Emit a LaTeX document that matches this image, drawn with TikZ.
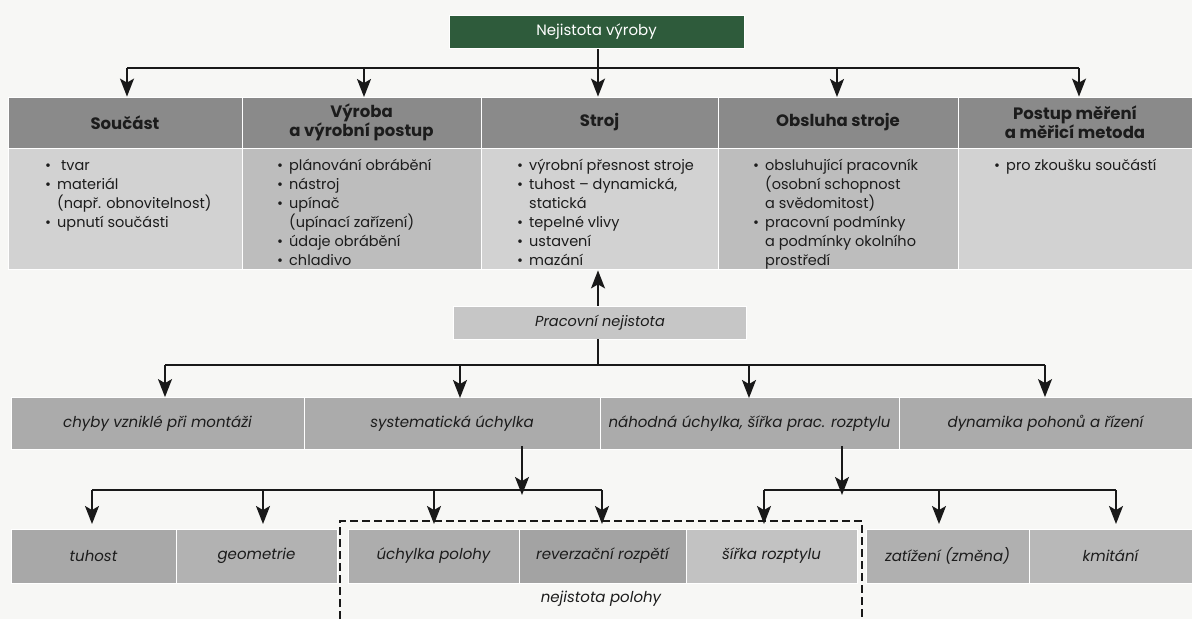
\documentclass[tikz,border=0pt]{standalone}
\usepackage{fontspec}
\setmainfont{Poppins}
\usetikzlibrary{arrows.meta}
\definecolor{bg}{HTML}{F7F7F5}
\definecolor{dkgreen}{HTML}{2E5B3B}
\definecolor{hdrgray}{HTML}{8A8A8A}
\definecolor{bodylt}{HTML}{D2D2D2}
\definecolor{bodydk}{HTML}{BDBDBD}
\definecolor{rowtwo}{HTML}{ABABAB}
\definecolor{prgray}{HTML}{C6C6C6}
\definecolor{txt}{HTML}{1C1C1C}
\newcommand{\bl}{\makebox[12pt][l]{\textbullet}}
\newcommand{\ind}{\hspace*{12pt}}
\begin{document}
\begin{tikzpicture}[x=1pt,y=-1pt,
  cell/.style={draw=white, line width=0.8pt, inner sep=0pt, text=txt, align=center},
  hdr/.style={cell, fill=hdrgray, minimum height=51pt, font=\fontsize{16.5}{19}\selectfont\bfseries},
  bodycell/.style={cell, minimum height=121pt},
  btxt/.style={anchor=north west, inner sep=0pt, align=left, text=txt, font=\fontsize{14.5}{19}\selectfont},
  rowtwobox/.style={cell, fill=rowtwo, minimum height=51.5pt, font=\fontsize{15}{17}\selectfont\itshape},
  rowthreebox/.style={cell, minimum height=54pt, font=\fontsize{15}{17}\selectfont\itshape},
  conn/.style={line width=1.6pt, draw=black!90},
  arr/.style={conn, -{Stealth[length=18pt,width=14pt,inset=4pt]}},
  dashbox/.style={line width=1.8pt, draw=black!90, dash pattern=on 8pt off 4pt}
]
\fill[bg] (0,0) rectangle (1192,619);
\useasboundingbox (0,0) rectangle (1192,619);

% top
\node[cell, fill=dkgreen, text=white, minimum width=295pt, minimum height=33pt,
      font=\fontsize{15}{17}\selectfont] (top) at (596.5,32) {Nejistota výroby};

% header row
\node[hdr, minimum width=234pt] (h1) at (125,122.5) {Součást};
\node[hdr, minimum width=239pt] (h2) at (361.5,122.5) {Výroba\\a výrobní postup};
\node[hdr, minimum width=237pt] (h3) at (599.5,122.5) {Stroj};
\node[hdr, minimum width=240pt] (h4) at (838,122.5) {Obsluha stroje};
\node[hdr, minimum width=234pt] (h5) at (1075,122.5) {Postup měření\\a měřicí metoda};

% body row
\node[bodycell, fill=bodylt, minimum width=234pt] (b1) at (125,208.5) {};
\node[bodycell, fill=bodydk, minimum width=239pt] (b2) at (361.5,208.5) {};
\node[bodycell, fill=bodylt, minimum width=237pt] (b3) at (599.5,208.5) {};
\node[bodycell, fill=bodydk, minimum width=240pt] (b4) at (838,208.5) {};
\node[bodycell, fill=bodylt, minimum width=234pt] (b5) at (1075,208.5) {};

\node[btxt] (t1) at (45,158) {\rule{0pt}{12pt}\bl\hspace{4pt}tvar\\\bl materiál\\\ind(např. obnovitelnost)\\\bl upnutí součásti};
\node[btxt] (t2) at (277,158) {\rule{0pt}{12pt}\bl plánování obrábění\\\bl nástroj\\\bl upínač\\\ind(upínací zařízení)\\\bl údaje obrábění\\\bl chladivo};
\node[btxt] (t3) at (517,158) {\rule{0pt}{12pt}\bl výrobní přesnost stroje\\\bl tuhost – dynamická,\\\ind statická\\\bl tepelné vlivy\\\bl ustavení\\\bl mazání};
\node[btxt] (t4) at (753,158) {\rule{0pt}{12pt}\bl obsluhující pracovník\\\ind(osobní schopnost\\\ind a svědomitost)\\\bl pracovní podmínky\\\ind a podmínky okolního\\\ind prostředí};
\node[btxt] (t5) at (994,158) {\rule{0pt}{12pt}\bl pro zkoušku součástí};

% first bus
\coordinate (j1) at (598,68);
\coordinate (j1a) at (127,68);
\coordinate (j1b) at (1079,68);
\draw[conn] (top.south -| j1) -- (j1);
\draw[conn] (j1a) -- (j1b);
\draw[arr] (j1a) -- (j1a |- h1.north);
\draw[arr] (364,68) -- (364,97);
\draw[arr] (j1) -- (j1 |- h3.north);
\draw[arr] (837,68) -- (837,97);
\draw[arr] (j1b) -- (j1b |- h5.north);

% Pracovni nejistota
\node[cell, fill=prgray, minimum width=293.5pt, minimum height=33pt,
      font=\fontsize{14.5}{16}\selectfont\itshape] (pr) at (600,322.5) {Pracovní nejistota};
\draw[arr] (pr.north -| j1) -- ([yshift=-1pt]b3.south -| j1);

% second bus
\coordinate (j2) at (598,365);
\coordinate (j2a) at (165,365);
\coordinate (j2b) at (1045,365);
\draw[conn] (pr.south -| j2) -- (j2);
\draw[conn] (j2a) -- (j2b);

% row 2
\node[rowtwobox, minimum width=293pt] (r1) at (157.5,423.25) {chyby vzniklé při montáži};
\node[rowtwobox, minimum width=296pt] (r2) at (452,423.25) {systematická úchylka};
\node[rowtwobox, minimum width=299pt] (r3) at (749.5,423.25) {náhodná úchylka, šířka prac. rozptylu};
\node[rowtwobox, minimum width=293pt] (r4) at (1045.5,423.25) {dynamika pohonů a řízení};

\draw[arr] (j2a) -- (j2a |- r1.north);
\draw[arr] (460,365) -- (460,398);
\draw[arr] (749,365) -- (749,398);
\draw[arr] (j2b) -- (j2b |- r4.north);

% row 3
\node[rowthreebox, fill=black!34, minimum width=165pt] (s1) at (93.5,556) {tuhost};
\node[rowthreebox, fill=black!30, minimum width=161pt] (s2) at (256.5,556) {geometrie};
\node[rowthreebox, fill=black!32, minimum width=171pt] (s3) at (433.5,556) {úchylka polohy};
\node[rowthreebox, fill=black!36, minimum width=167pt] (s4) at (602.5,556) {reverzační rozpětí};
\node[rowthreebox, fill=black!24, minimum width=171pt] (s5) at (771.5,556) {šířka rozptylu};
\node[rowthreebox, fill=black!31, minimum width=163pt] (s6) at (947.5,556) {zatížení (změna)};
\node[rowthreebox, fill=black!28, minimum width=163pt] (s7) at (1110.5,556) {kmitání};

% third buses
\coordinate (k1) at (522,490);
\coordinate (k1a) at (92,490);
\coordinate (k1b) at (602,490);
\coordinate (k2) at (842,490);
\coordinate (k2a) at (764,490);
\coordinate (k2b) at (1116,490);
\draw[arr] ([yshift=3pt]r2.south -| k1) -- ([yshift=-5pt]k1);
\draw[arr] ([yshift=3pt]r3.south -| k2) -- ([yshift=-5pt]k2);
\draw[conn] (k1a) -- (k1b);
\draw[conn] (k2a) -- (k2b);
\draw[arr] (k1a) -- (92,524);
\draw[arr] (263,490) -- (263,524);
\draw[arr] (434,490) -- (434,524);
\draw[arr] (k1b) -- (602,524);
\draw[arr] (k2a) -- (764,524);
\draw[arr] (939,490) -- (939,524);
\draw[arr] (k2b) -- (1116,524);

% dashed region
\coordinate (d1) at (340,619);
\coordinate (d2) at (340,521);
\coordinate (d3) at (862,521);
\coordinate (d4) at (862,619);
\draw[dashbox] (d1) -- (d2) -- (d3) -- (d4);
\node[inner sep=0pt, text=txt, font=\fontsize{15}{17}\selectfont\itshape] (np) at (601,599) {nejistota polohy};
\end{tikzpicture}
\end{document}
